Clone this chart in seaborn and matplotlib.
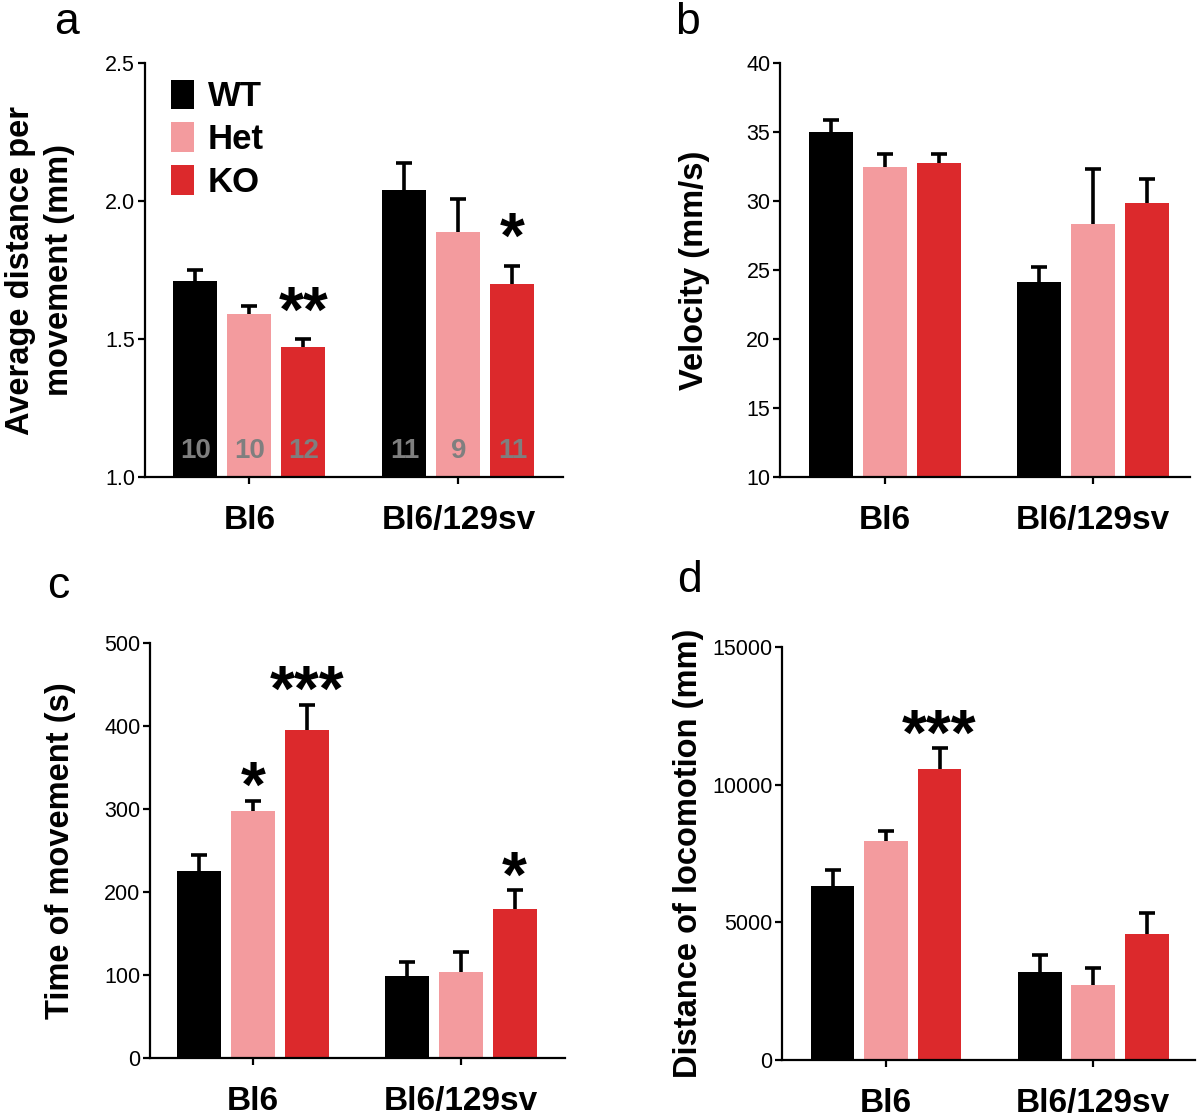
import pandas as pd
import numpy as np
import matplotlib
matplotlib.use("Agg")
import matplotlib.pyplot as plt
from matplotlib.container import BarContainer
import seaborn as sns

# 데이터
strains = ['Bl6', 'Bl6/129sv']
genotypes = ['WT', 'Het', 'KO']
colors = ['#000000', '#F39B9E', '#DC292C']

# 각 패널: genotype 별 [Bl6, Bl6/129sv]
dist_mean = [[1.711, 2.041], [1.590, 1.887], [1.472, 1.701]]
dist_sem = [[0.041, 0.097], [0.029, 0.121], [0.028, 0.065]]
n_mice = [[10, 11], [10, 9], [12, 11]]

vel_mean = [[35.0, 24.15], [32.46, 28.34], [32.79, 29.84]]
vel_sem = [[0.9, 1.07], [0.95, 4.0], [0.6, 1.75]]

time_mean = [[225.5, 98.5], [298, 103], [394.6, 179.4]]
time_sem = [[18.5, 17.2], [12, 25], [31, 22.6]]

loco_mean = [[6326, 3189], [7965, 2711], [10573, 4583]]
loco_sem = [[581, 619], [336, 633], [762, 749]]

# 유의성 표시 (strain index, genotype index, label)
stars_a = [(0, 2, '**'), (1, 2, '*')]
stars_c = [(0, 1, '*'), (0, 2, '***'), (1, 2, '*')]
stars_d = [(0, 2, '***')]

sns.set_style('ticks')
plt.rcParams['font.family'] = ['Liberation Sans', 'DejaVu Sans']
plt.rcParams.update({'text.color': 'black', 'axes.labelcolor': 'black',
                     'xtick.color': 'black', 'ytick.color': 'black',
                     'axes.edgecolor': 'black'})


def to_df(mean):
    rows = []
    for g, vals in zip(genotypes, mean):
        for s, v in zip(strains, vals):
            rows.append({'strain': s, 'genotype': g, 'value': v})
    return pd.DataFrame(rows)


def bar_containers(ax):
    return [c for c in ax.containers if isinstance(c, BarContainer)]


def bar_panel(ax, mean, sem, ylim, yticks, xlim, ylabel, label_x, fmt='{:.0f}', stars=None, star_pad=6, legend=False):
    df = to_df(mean)
    sns.barplot(data=df, x='strain', y='value', hue='genotype', hue_order=genotypes,
                order=strains, palette=colors, errorbar=None, width=0.775, gap=0.185,
                linewidth=0, saturation=1, ax=ax, legend=legend)
    # 위쪽 에러바 (위쪽 캡만)
    tops = {}
    for gi, cont in enumerate(bar_containers(ax)):
        for si, bar in enumerate(cont):
            x = bar.get_x() + bar.get_width() / 2
            h = bar.get_height()
            e = sem[gi][si]
            eb = ax.errorbar(x, h, yerr=[[0], [e]], fmt='none', ecolor='black',
                             elinewidth=2.6, capsize=6, capthick=2.6, zorder=0.9)
            eb[1][0].set_visible(False)
            tops[(si, gi)] = (x, h + e)
    if stars:
        for si, gi, txt in stars:
            x, y = tops[(si, gi)]
            ax.annotate(txt, xy=(x, y), xytext=(0, star_pad), textcoords='offset points',
                        ha='center', va='bottom', fontsize=46, fontweight='bold')
    ax.set_ylim(*ylim)
    ax.set_xlim(*xlim)
    ax.set_yticks(yticks)
    ax.set_yticklabels([fmt.format(t) for t in yticks], fontsize=15.5)
    ax.set_xlabel('')
    ax.set_ylabel(ylabel, fontsize=23.5, fontweight='bold', linespacing=1.35)
    ax.yaxis.set_label_coords(label_x, 0.5)
    for lbl in ax.get_xticklabels():
        lbl.set_fontsize(24)
        lbl.set_fontweight('bold')
    sns.despine(ax=ax)
    for sp in ['left', 'bottom']:
        ax.spines[sp].set_linewidth(1.6)
    ax.tick_params(axis='both', width=1.6, length=5, color='black')
    ax.tick_params(axis='y', pad=2)
    ax.tick_params(axis='x', pad=15)
    return tops


fig = plt.figure(figsize=(12, 11.18), dpi=100)

ax_a = fig.add_axes([0.1208, 0.5733, 0.3483, 0.3703])
ax_b = fig.add_axes([0.6500, 0.5733, 0.3417, 0.3703])
ax_c = fig.add_axes([0.1250, 0.0537, 0.3458, 0.3712])
ax_d = fig.add_axes([0.6517, 0.0519, 0.3440, 0.3694])

bar_panel(ax_a, dist_mean, dist_sem, (1.0, 2.5), [1.0, 1.5, 2.0, 2.5], (-0.5, 1.5),
          'Average distance per\nmovement (mm)', -0.167, fmt='{:.1f}', stars=stars_a,
          star_pad=-4, legend=True)
bar_panel(ax_b, vel_mean, vel_sem, (10, 40), [10, 15, 20, 25, 30, 35, 40], (-0.505, 1.466),
          'Velocity (mm/s)', -0.171)
bar_panel(ax_c, time_mean, time_sem, (0, 500), [0, 100, 200, 300, 400, 500], (-0.495, 1.5),
          'Time of movement (s)', -0.178, stars=stars_c, star_pad=-14)
bar_panel(ax_d, loco_mean, loco_sem, (0, 15000), [0, 5000, 10000, 15000], (-0.502, 1.49),
          'Distance of locomotion (mm)', -0.189, stars=stars_d, star_pad=-14)

# n 숫자 (패널 a)
for gi, cont in enumerate(bar_containers(ax_a)):
    for si, bar in enumerate(cont):
        x = bar.get_x() + bar.get_width() / 2
        ax_a.text(x, 1.094, str(n_mice[gi][si]), ha='center', va='center',
                  fontsize=20, fontweight='bold', color='#7F7F7F')

# 범례
leg = ax_a.legend(loc='upper left', bbox_to_anchor=(0.062, 0.96), frameon=False,
                  prop={'size': 25, 'weight': 'bold'}, handlelength=0.66,
                  handleheight=0.93, labelspacing=0.26, handletextpad=0.4,
                  borderpad=0, borderaxespad=0)

# 패널 라벨
fig.text(54 / 1200, 1 - 34 / 1118, 'a', fontsize=32, va='baseline', ha='left')
fig.text(675 / 1200, 1 - 34 / 1118, 'b', fontsize=32, va='baseline', ha='left')
fig.text(47 / 1200, 1 - 598 / 1118, 'c', fontsize=32, va='baseline', ha='left')
fig.text(677 / 1200, 1 - 592 / 1118, 'd', fontsize=32, va='baseline', ha='left')

plt.savefig('out.png', dpi=100)
